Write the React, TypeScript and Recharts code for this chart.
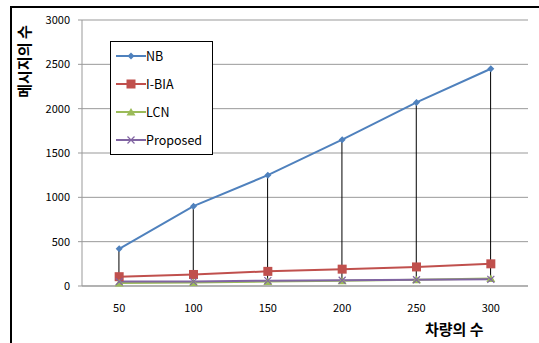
import React from 'react'
import { ComposedChart, Line, Bar, XAxis, YAxis, CartesianGrid } from 'recharts'

// 차량의 수 (x축)
const vehicles = ['50', '100', '150', '200', '250', '300']
const nb = [420, 900, 1250, 1650, 2070, 2450]
const ibia = [105, 130, 165, 190, 215, 250]
const lcn = [35, 40, 50, 60, 70, 85]
const proposed = [50, 50, 60, 65, 70, 75]
const yTicks = [0, 500, 1000, 1500, 2000, 2500, 3000]

const data = vehicles.map((v, i) => {
    const vals = [nb[i], ibia[i], lcn[i], proposed[i]]
    return {
        name: v,
        NB: nb[i],
        'I-BIA': ibia[i],
        LCN: lcn[i],
        Proposed: proposed[i],
        hl: [Math.min(...vals), Math.max(...vals)]
    }
})

const FONT = '"Noto Sans CJK KR", "Noto Sans", sans-serif'

const series = [
    { key: 'NB', color: '#4F81BD', marker: 'diamond' },
    { key: 'I-BIA', color: '#C0504D', marker: 'square' },
    { key: 'LCN', color: '#9BBB59', marker: 'triangle' },
    { key: 'Proposed', color: '#8064A2', marker: 'x' }
]

const Marker = ({ cx, cy, type, color }: any) => {
    if (cx == null || cy == null) return null
    if (type === 'diamond')
        return <path d={`M${cx},${cy - 3.5}L${cx + 3.5},${cy}L${cx},${cy + 3.5}L${cx - 3.5},${cy}Z`} fill={color} />
    if (type === 'square')
        return <rect x={cx - 4.5} y={cy - 4.5} width={9} height={9} fill={color} />
    if (type === 'triangle')
        return <path d={`M${cx},${cy - 4}L${cx + 4.5},${cy + 3.5}L${cx - 4.5},${cy + 3.5}Z`} fill={color} />
    return (
        <path d={`M${cx - 3.5},${cy - 3.5}L${cx + 3.5},${cy + 3.5}M${cx + 3.5},${cy - 3.5}L${cx - 3.5},${cy + 3.5}`}
            stroke={color} strokeWidth={1.2} fill="none" />
    )
}

// 최고-최저 연결선
const HighLow = (props: any) => {
    const { x, y, width, height } = props
    const cx = x + width / 2
    return <line x1={cx} x2={cx} y1={y} y2={y + height} stroke="#000" strokeWidth={1} />
}

const LegendBox = () => (
    <div style={{ position: 'absolute', left: 110, top: 41, border: '1.5px solid #000', background: '#fff', width: 103, height: 114, boxSizing: 'border-box', fontFamily: FONT }}>
        {series.map(s => (
            <div key={s.key} style={{ display: 'flex', alignItems: 'center', height: 28, fontSize: 12.5, color: '#000', lineHeight: '14px' }}>
                <svg width={30} height={12} style={{ marginLeft: 5, flex: 'none' }}>
                    <line x1={0} x2={30} y1={6} y2={6} stroke={s.color} strokeWidth={2} />
                    <Marker cx={15} cy={6} type={s.marker} color={s.color} />
                </svg>
                <span>{s.key}</span>
            </div>
        ))}
    </div>
)

const App: React.FC = () => {
    return (
        <div style={{ position: 'absolute', left: 0, top: 0, width: 539, height: 343, background: '#fff', overflow: 'hidden' }}>
            <div style={{ position: 'absolute', left: 10, top: 6, width: 600, height: 400, borderLeft: '2px solid #000', borderTop: '2px solid #000' }} />
            <ComposedChart width={539} height={343} data={data} margin={{ top: 20, right: 11, bottom: 0, left: 0 }} style={{ position: 'absolute', left: 0, top: 0 }}>
                <CartesianGrid vertical={false} stroke="#999" strokeWidth={1} />
                <XAxis dataKey="name" height={57} tickLine={false} axisLine={{ stroke: '#999' }} tickMargin={12}
                    tick={{ fontSize: 11, fill: '#000', fontFamily: FONT }} />
                <YAxis width={82} domain={[0, 3000]} ticks={yTicks} interval={0} tickSize={4} tickLine={{ stroke: '#999' }}
                    axisLine={{ stroke: '#999' }} tickMargin={8} tick={{ fontSize: 11, fill: '#000', fontFamily: FONT }} />
                <Bar dataKey="hl" shape={HighLow} isAnimationActive={false} legendType="none" />
                {series.map(s => (
                    <Line key={s.key} type="linear" dataKey={s.key} stroke={s.color} strokeWidth={2}
                        dot={(p: any) => <Marker key={`${s.key}-${p.index}`} cx={p.cx} cy={p.cy} type={s.marker} color={s.color} />}
                        activeDot={false} isAnimationActive={false} />
                ))}
            </ComposedChart>
            <LegendBox />
            <div style={{ position: 'absolute', left: 12, top: 20, width: 22, height: 82, display: 'flex', alignItems: 'center', justifyContent: 'center' }}>
                <div style={{ transform: 'rotate(-90deg)', whiteSpace: 'nowrap', fontFamily: FONT, fontSize: 15, fontWeight: 700, color: '#000' }}>메시지의 수</div>
            </div>
            <div style={{ position: 'absolute', left: 425, top: 318, whiteSpace: 'nowrap', fontFamily: FONT, fontSize: 15, fontWeight: 700, color: '#000' }}>차량의 수</div>
        </div>
    )
}

export default App
